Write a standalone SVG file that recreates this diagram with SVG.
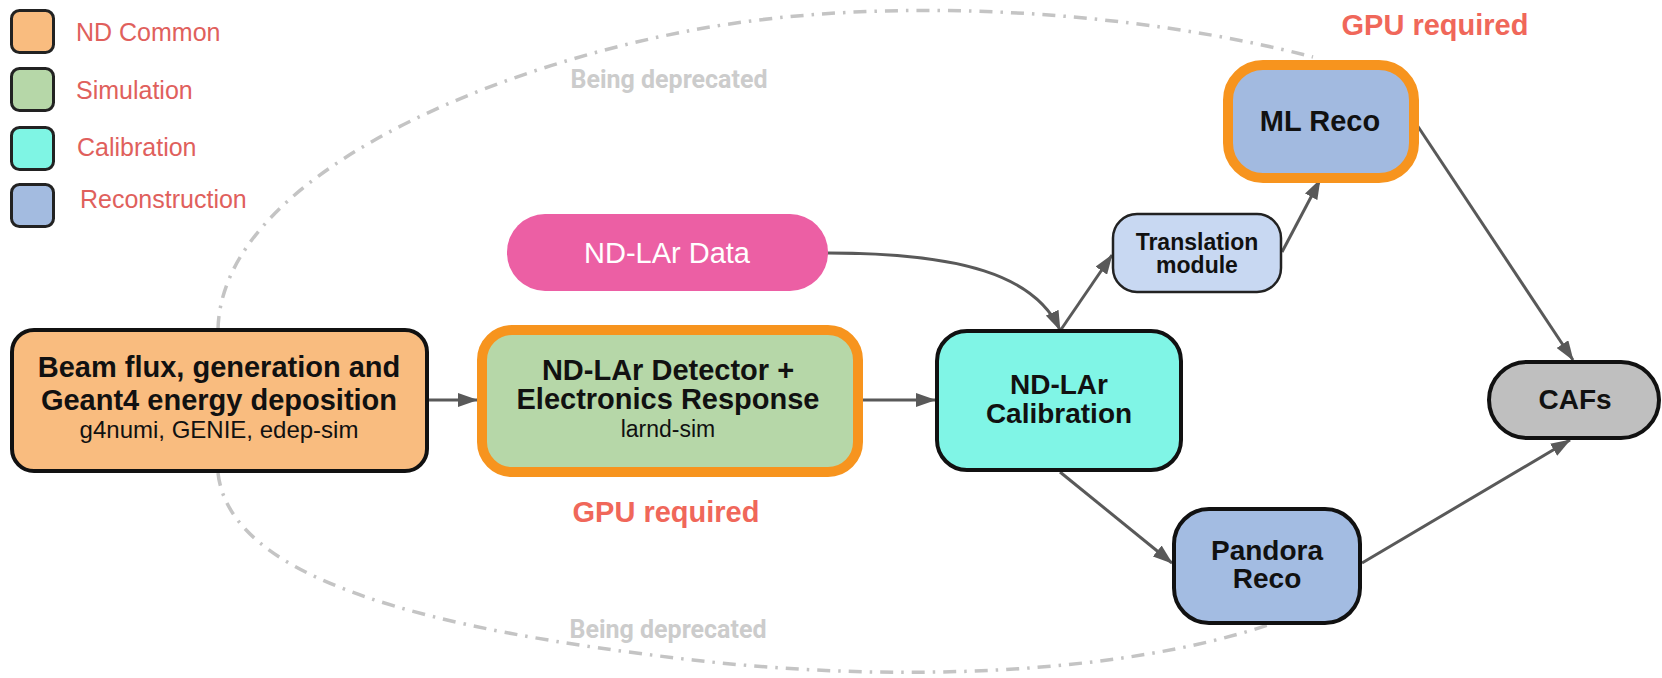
<svg xmlns="http://www.w3.org/2000/svg" width="1662" height="678" viewBox="0 0 1662 678">
<defs>
<style>
.leg{stroke:#222;stroke-width:3}
.legt{font-family:"Liberation Sans",Arial,sans-serif;font-size:25px;fill:#e0605c}
.node{stroke:#111;stroke-width:4}
.gpu{stroke:#f7941e;stroke-width:10}
.t{font-family:"Liberation Sans",Arial,sans-serif;text-anchor:middle;fill:#111}
.b{font-weight:bold}
.gpuT{font-family:"Liberation Sans",Arial,sans-serif;font-weight:bold;font-size:29px;fill:#f0675a;text-anchor:middle}
.dep{font-family:Roboto,"Liberation Sans",sans-serif;font-weight:bold;font-size:25px;fill:#cccccc;text-anchor:middle}
.edge{fill:none;stroke:#595959;stroke-width:3;marker-end:url(#arr)}
.dash{fill:none;stroke:#c4c4c4;stroke-width:3.5;stroke-dasharray:13 8 2.5 8}
</style>
<marker id="arr" markerUnits="userSpaceOnUse" markerWidth="20" markerHeight="14" refX="19" refY="7" orient="auto">
<path d="M0,0 L20,7 L0,14 z" fill="#595959"/>
</marker>
</defs>
<rect width="1662" height="678" fill="#ffffff"/>

<g id="legend">
<rect class="leg" x="11.5" y="10.5" width="42" height="42" rx="8" fill="#f9bc7f"/>
<rect class="leg" x="11.5" y="68.5" width="42" height="42" rx="8" fill="#b6d7a8"/>
<rect class="leg" x="11.5" y="127.5" width="42" height="42" rx="8" fill="#7ff5e4"/>
<rect class="leg" x="11.5" y="184.5" width="42" height="42" rx="8" fill="#a3bbe0"/>
<text class="legt" x="76" y="41">ND Common</text>
<text class="legt" x="76" y="99">Simulation</text>
<text class="legt" x="77" y="156">Calibration</text>
<text class="legt" x="80" y="208">Reconstruction</text>
</g>

<g id="deprecated">
<path class="dash" d="M218,329 C222,180 480,70 693,30 C893,-7 1140,12 1313,57"/>
<path class="dash" d="M218,473 C230,580 430,630 693,660 C893,683 1118,675 1268,625"/>
<text class="dep" x="669" y="88">Being deprecated</text>
<text class="dep" x="668" y="638">Being deprecated</text>
</g>

<g id="connectors">
<path class="edge" d="M428,400 L477,400"/>
<path class="edge" d="M863,400 L935,400"/>
<path class="edge" d="M828,253 C960,253 1035,275 1060,330"/>
<path class="edge" d="M1060,331 L1112,255"/>
<path class="edge" d="M1282,252 L1320,180"/>
<path class="edge" d="M1415,122 L1573,360"/>
<path class="edge" d="M1060,472 L1172,563"/>
<path class="edge" d="M1362,563 L1570,440"/>
</g>

<g id="beam">
<rect class="node" x="12" y="330" width="415" height="141" rx="22" fill="#f9bc7f"/>
<text class="t b" x="219" y="377" font-size="29">Beam flux, generation and</text>
<text class="t b" x="219" y="410" font-size="29">Geant4 energy deposition</text>
<text class="t" x="219" y="438" font-size="24">g4numi, GENIE, edep-sim</text>
</g>

<g id="data">
<rect x="507" y="214" width="321" height="77" rx="38" fill="#ec5fa4"/>
<text class="t" x="667" y="263" font-size="29" style="fill:#ffffff">ND-LAr Data</text>
</g>

<g id="detector">
<rect class="gpu" x="482" y="330" width="376" height="142" rx="30" fill="#b6d7a8"/>
<text class="t b" x="668" y="380" font-size="29">ND-LAr Detector +</text>
<text class="t b" x="668" y="409" font-size="29">Electronics Response</text>
<text class="t" x="668" y="437" font-size="23">larnd-sim</text>
<text class="gpuT" x="666" y="522">GPU required</text>
</g>

<g id="calibration">
<rect class="node" x="937" y="331" width="244" height="139" rx="30" fill="#80f5e6"/>
<text class="t b" x="1059" y="394" font-size="28">ND-LAr</text>
<text class="t b" x="1059" y="423" font-size="28">Calibration</text>
</g>

<g id="translation">
<rect x="1113" y="214" width="168" height="78" rx="24" fill="#c8d8f2" stroke="#222" stroke-width="2.5"/>
<text class="t b" x="1197" y="250" font-size="23">Translation</text>
<text class="t b" x="1197" y="273" font-size="23">module</text>
</g>

<g id="mlreco">
<rect class="gpu" x="1228" y="65" width="186" height="113" rx="35" fill="#a2bae0"/>
<text class="t b" x="1320" y="131" font-size="29">ML Reco</text>
<text class="gpuT" x="1435" y="35">GPU required</text>
</g>

<g id="pandora">
<rect class="node" x="1174" y="509" width="186" height="114" rx="35" fill="#a3bce2"/>
<text class="t b" x="1267" y="560" font-size="28">Pandora</text>
<text class="t b" x="1267" y="588" font-size="28">Reco</text>
</g>

<g id="cafs">
<rect class="node" x="1489" y="362" width="170" height="76" rx="38" fill="#bfbfbf"/>
<text class="t b" x="1575" y="409" font-size="28">CAFs</text>
</g>
</svg>
